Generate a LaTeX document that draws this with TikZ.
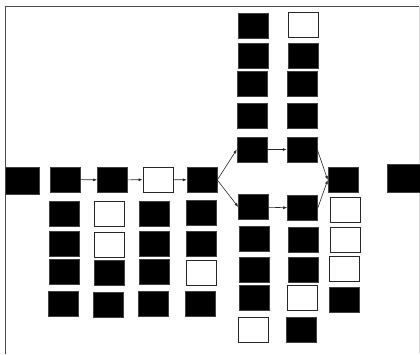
\documentclass[tikz,border=0pt]{standalone}
\usetikzlibrary{arrows.meta}

\begin{document}
\begin{tikzpicture}[x=1pt, y=-1pt]
        % Cell style definitions
        \tikzset{
            full/.style={rectangle, draw=black!75, fill=black, line width=0.5pt,
                minimum width=30pt, minimum height=25pt, inner sep=0pt},
            empty/.style={full, draw=black!85, fill=white, line width=0.8pt},
            link/.style={-{Latex[length=4pt, width=3pt]}, black!85, line width=0.6pt}
        }
        \useasboundingbox (0,0) rectangle (420,354);

        % ==========================================
        % FRAME (open at the bottom)
        % ==========================================
        \draw[black!70, line width=1.2pt] (5.5,354) -- (5.5,6.5) -- (419,6.5);
        \draw[black!15, line width=0.8pt] (419,6.5) -- (419,354);

        % ==========================================
        % MAIN ROW (y = 180)
        % ==========================================
        \node[full, minimum width=34pt, minimum height=27pt] (start) at (22,180.5) {};
        \node[full] (a1) at (65,179.5) {};
        \node[full] (a2) at (112.5,180) {};
        \node[empty] (a3) at (158,179.5) {};
        \node[full] (a4) at (202,180) {};

        % Upper branch and lower branch
        \node[full] (up1) at (252,149.5) {};
        \node[full] (up2) at (302,149.5) {};
        \node[full] (lo1) at (253.5,207) {};
        \node[full] (lo2) at (302.5,208) {};

        % Merge and end
        \node[full] (join) at (343,180) {};
        \node[full, minimum width=34pt, minimum height=28pt] (stop) at (404,178.5) {};

        % ==========================================
        % COLUMNS BELOW THE MAIN ROW
        % ==========================================
        \node[full] (a1r1) at (64.5,213.5) {};
        \node[full] (a1r2) at (64.5,243.5) {};
        \node[full] (a1r3) at (64.5,272) {};
        \node[full] (a1r4) at (63.5,304) {};

        \node[empty] (a2r1) at (109,214) {};
        \node[empty] (a2r2) at (109,244.5) {};
        \node[full] (a2r3) at (109,273) {};
        \node[full] (a2r4) at (108.5,304.5) {};

        \node[full] (a3r1) at (154.5,214) {};
        \node[full] (a3r2) at (154.5,244) {};
        \node[full] (a3r3) at (154,272) {};
        \node[full] (a3r4) at (153.5,303.5) {};

        \node[full] (a4r1) at (201,213) {};
        \node[full] (a4r2) at (201,243.5) {};
        \node[empty] (a4r3) at (201,272.5) {};
        \node[full] (a4r4) at (200.5,303.5) {};

        % ==========================================
        % COLUMNS ABOVE THE UPPER BRANCH
        % ==========================================
        \node[full] (up1r1) at (253,25.5) {};
        \node[full] (up1r2) at (253,55.5) {};
        \node[full] (up1r3) at (252.5,84) {};
        \node[full] (up1r4) at (252,115.5) {};

        \node[empty] (up2r1) at (303,25) {};
        \node[full] (up2r2) at (303,55.5) {};
        \node[full] (up2r3) at (302.5,84) {};
        \node[full] (up2r4) at (302,115.5) {};

        % ==========================================
        % COLUMNS BELOW THE LOWER BRANCH
        % ==========================================
        \node[full] (lo1r1) at (254.5,239) {};
        \node[full] (lo1r2) at (254,269.5) {};
        \node[full] (lo1r3) at (254,298) {};
        \node[empty] (lo1r4) at (253,329.5) {};

        \node[full] (lo2r1) at (303,239.5) {};
        \node[full] (lo2r2) at (303,269.5) {};
        \node[empty] (lo2r3) at (302.5,298) {};
        \node[full] (lo2r4) at (301.5,330) {};

        % Column below the merge
        \node[empty] (joinr1) at (345,209.5) {};
        \node[empty] (joinr2) at (345,239.5) {};
        \node[empty] (joinr3) at (344.5,268.5) {};
        \node[full] (joinr4) at (344,300) {};

        % ==========================================
        % CONNECTORS
        % ==========================================
        \draw[link] (a1) -- (a2);
        \draw[link] (a2) -- (a3);
        \draw[link] (a3) -- (a4);
        \draw[link] (a4.east) -- (up1.west);
        \draw[link] (a4.east) -- (lo1.west);
        \draw[link] (up1) -- (up2);
        \draw[link] (lo1) -- (lo2);
        \draw[link] (up2.east) -- (join.west);
        \draw[link] (lo2.east) -- (join.west);

    \end{tikzpicture}
\end{document}
